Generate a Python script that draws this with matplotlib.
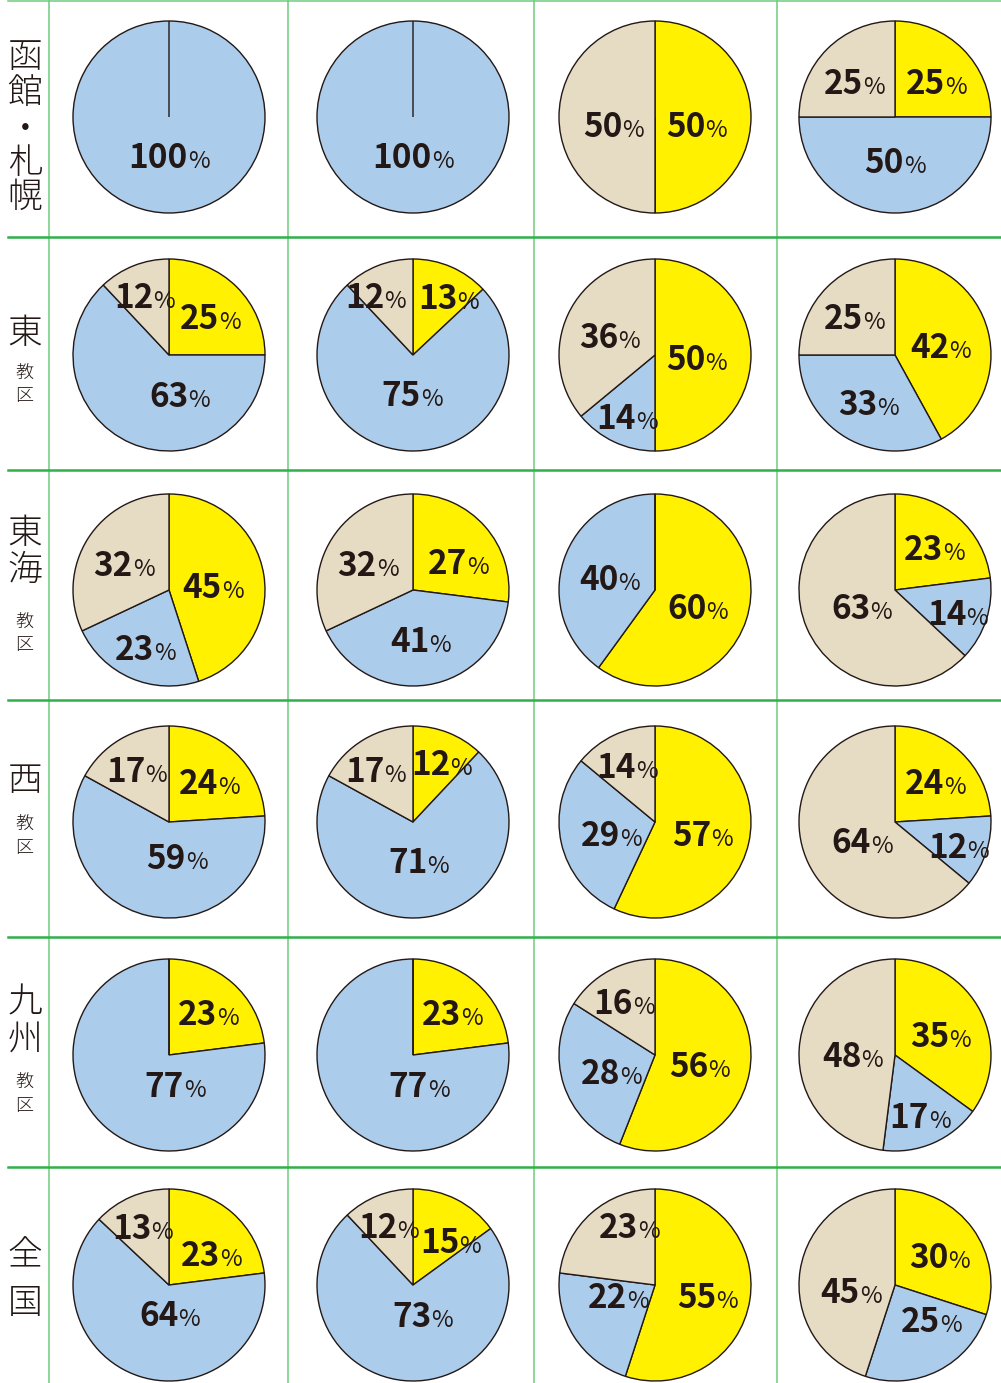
import numpy as np
import matplotlib
matplotlib.use('Agg')
import matplotlib.pyplot as plt

plt.rcParams['font.family'] = ['Noto Sans CJK JP', 'DejaVu Sans']

# 行ラベル（教区）
row_big = ["函館・札幌", "東", "東海", "西", "九州", "全国"]
row_small = ["", "教区", "教区", "教区", "教区", ""]

# 各円グラフの割合（時計回り: 黄 → 青 → ベージュ）
yellow = [[0, 0, 50, 25],
          [25, 13, 50, 42],
          [45, 27, 60, 23],
          [24, 12, 57, 24],
          [23, 23, 56, 35],
          [23, 15, 55, 30]]
blue = [[100, 100, 0, 50],
        [63, 75, 14, 33],
        [23, 41, 40, 14],
        [59, 71, 29, 12],
        [77, 77, 28, 17],
        [64, 73, 22, 25]]
beige = [[0, 0, 50, 25],
         [12, 12, 36, 25],
         [32, 32, 0, 63],
         [17, 17, 14, 64],
         [0, 0, 16, 48],
         [13, 12, 23, 45]]

W, H = 1001, 1383
fig = plt.figure(figsize=(W / 100, H / 100), dpi=100)
ax = fig.add_axes([0, 0, 1, 1])

col_x = [169, 413, 655, 895]
row_y = [117, 355, 590, 822, 1055, 1285]
R = 96
colors = ['#fff100', '#abcdeb', '#e6dcc3']
ink = '#231815'

# ラベル位置の微調整 (行, 列, 系列): (右へ, 下へ) px
nudge = {(0, 2, 0): (0, 5), (0, 2, 2): (0, 5),
         (0, 3, 0): (0, 3), (0, 3, 2): (0, 3),
         (1, 0, 1): (25, 4),
         (1, 1, 2): (-13, 0), (1, 1, 0): (9, 0),
         (2, 1, 0): (3, 7),
         (2, 2, 0): (8, 3),
         (3, 0, 1): (16, -4),
         (3, 1, 2): (-5, 0), (3, 1, 0): (4, 0),
         (3, 2, 0): (12, 1), (3, 2, 1): (10, -3),
         (4, 0, 1): (30, 0), (4, 1, 1): (30, 0),
         (4, 2, 0): (8, 0), (4, 2, 1): (10, -3),
         (5, 0, 0): (3, 11), (5, 0, 1): (12, -9),
         (5, 1, 0): (8, 11), (5, 1, 1): (13, -9),
         (5, 2, 2): (14, -17), (5, 2, 1): (14, -24), (5, 2, 0): (15, 2),
         (5, 3, 2): (0, 10), (5, 3, 1): (10, -20)}

labels = []
for i in range(6):
    for j in range(4):
        vals = [yellow[i][j], blue[i][j], beige[i][j]]
        cx, cy = col_x[j], H - row_y[i]
        ax.pie(vals, colors=colors, startangle=90, counterclock=False,
               center=(cx, cy), radius=R,
               wedgeprops=dict(edgecolor=ink, linewidth=1.0))
        start = 0.0
        for k, v in enumerate(vals):
            if v > 0:
                mid = np.deg2rad(start + v * 1.8)
                d = max(0.38, 0.78 - 0.007 * v) * R
                dx, dy = nudge.get((i, j, k), (0, 0))
                labels.append((cx + d * np.sin(mid) + dx,
                               cy + d * np.cos(mid) - dy - 4, v))
            start += v * 3.6

ax.set_xlim(0, W)
ax.set_ylim(0, H)
ax.set_aspect('auto')
ax.axis('off')

# 罫線
light = '#6fcb7e'
dark = '#2fb04a'
for x in [49, 288, 534, 777]:
    ax.plot([x, x], [0, H], color=light, lw=1.1, zorder=0)
ax.plot([8, W], [H - 1, H - 1], color=light, lw=1.1, zorder=0)
for y in [237, 470, 700, 937, 1167]:
    ax.plot([8, W], [H - y, H - y], color=dark, lw=1.8, zorder=0)

# 行ラベル
big_y = [[57, 93, 130, 163, 197], [333], [533, 570], [781], [1002, 1040], [1255, 1303]]
small_y = [[], [374, 396], [623, 645], [825, 848], [1083, 1106], []]
for i in range(6):
    for ch, y in zip(row_big[i], big_y[i]):
        ax.text(25, H - y, ch, fontsize=25, color=ink, ha='center', va='center',
                fontweight='light')
    for ch, y in zip(row_small[i], small_y[i]):
        ax.text(24, H - y, ch, fontsize=13, color=ink, ha='center', va='center',
                fontweight='light')

# パーセント表示
fig.canvas.draw()
rend = fig.canvas.get_renderer()
for x, y, v in labels:
    t = ax.text(x, y - 11, str(v), fontsize=24, fontweight='bold', color=ink,
                ha='left', va='baseline', zorder=5)
    p = ax.text(x, y - 11, '%', fontsize=17, color=ink,
                ha='left', va='baseline', zorder=5)
    w1 = t.get_window_extent(rend).width
    w2 = p.get_window_extent(rend).width
    x0 = x - (w1 + w2) / 2
    t.set_x(x0)
    p.set_x(x0 + w1)

fig.savefig('out.png', dpi=100)
